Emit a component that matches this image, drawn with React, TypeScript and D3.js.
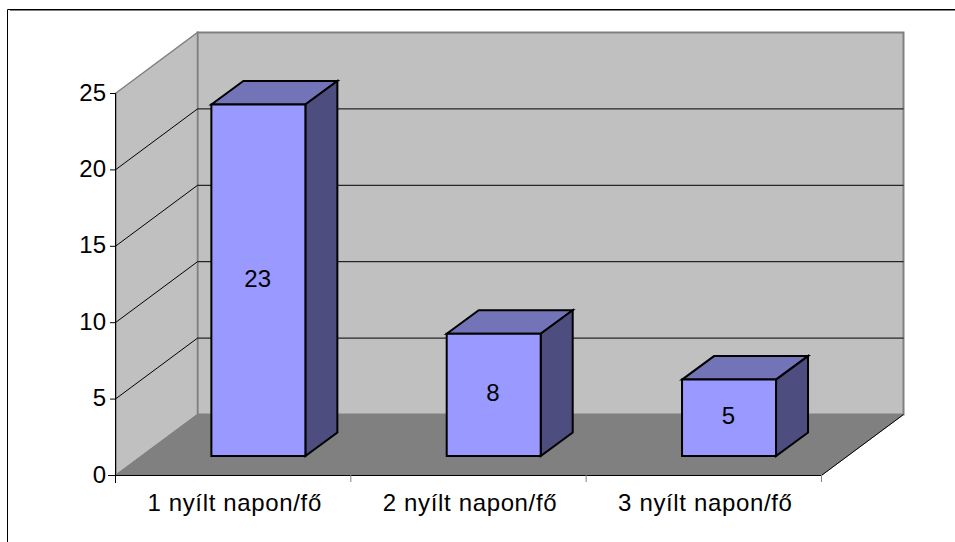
import React from "react";
import * as d3 from "d3";

const categories = ["1 nyílt napon/fő", "2 nyílt napon/fő", "3 nyílt napon/fő"];
const values = [23, 8, 5];
const yTicks = [0, 5, 10, 15, 20, 25];

const W = 955, H = 542;
const x0 = 116, x1 = 822, yBase = 475, yTop = 93;
const depthX = 81.5, depthY = -60.5;
const barLift = 19; // bars sit inside the floor depth
const barDepth = 32, barRise = 23.5;
const bandScale = d3.scaleBand<string>().domain(categories).range([x0, x1]);
const y = d3.scaleLinear().domain([0, 25]).range([yBase, yTop]);
const barW = 94;
const line = d3.line();
const poly = (p: [number, number][]) => line(p)! + "Z";

export default function App() {
  const fontFamily = '"Liberation Sans", Arial, sans-serif';
  return (
    <svg width={W} height={H} style={{ position: "absolute", left: 0, top: 0, background: "#fff" }} fontFamily={fontFamily}>
      {/* frame */}
      <path d={`M10 10.5H${W}`} fill="none" stroke="#808080" strokeWidth={1} />
      <path d={`M7.5 ${H}V9.5H${W}`} fill="none" stroke="#000" strokeWidth={1} />
      {/* back wall */}
      <path d={poly([[x0 + depthX, y(25) + depthY], [x1 + depthX, y(25) + depthY], [x1 + depthX, yBase + depthY], [x0 + depthX, yBase + depthY]])} fill="#c0c0c0" stroke="#808080" strokeWidth={2} />
      {/* side wall */}
      <path d={poly([[x0, y(25)], [x0 + depthX, y(25) + depthY], [x0 + depthX, yBase + depthY], [x0, yBase]])} fill="#c0c0c0" stroke="#808080" strokeWidth={1.5} />
      {/* floor */}
      <path d={poly([[x0, yBase], [x0 + depthX, yBase + depthY], [x1 + depthX, yBase + depthY], [x1, yBase]])} fill="#808080" stroke="#808080" />
      {/* gridlines */}
      {yTicks.filter(t => t > 0 && t < 25).map(t => (
        <path key={t} d={`M${x0} ${y(t)}L${x0 + depthX} ${y(t) + depthY}H${x1 + depthX}`} fill="none" stroke="#000" strokeWidth={1} />
      ))}
      {/* axes */}
      <path d={`M${x0 - 0.5} ${y(25)}V${yBase + 8}`} stroke="#000" fill="none" />
      <path d={`M${x0 - 8} ${yBase + 0.5}H${x1}`} stroke="#000" fill="none" />
      <path d={`M${x1 - 0.5} ${yBase}V${yBase + 7}`} stroke="#808080" fill="none" />
      <path d={`M${x1} ${yBase}L${x1 + depthX} ${yBase + depthY}`} stroke="#000" fill="none" />
      {categories.slice(1).map(c => (
        <path key={c} d={`M${bandScale(c)! - 0.5} ${yBase}v7`} stroke="#808080" fill="none" />
      ))}
      {yTicks.map(t => (
        <g key={t}>
          <path d={`M${x0 - 6} ${y(t) + 0.5}H${x0}`} stroke="#000" fill="none" />
          <text x={x0 - 10} y={y(t) + 7.5} textAnchor="end" fontSize={24} fill="#000">{t}</text>
        </g>
      ))}
      {/* bars */}
      {categories.map((c, i) => {
        const cx = bandScale(c)! + bandScale.bandwidth() / 2 + 24.7;
        const l = cx - barW / 2, r = cx + barW / 2;
        const b = yBase - barLift, t = b - (yBase - y(values[i]));
        return (
          <g key={c} stroke="#000" strokeWidth={2} strokeLinejoin="miter">
            <path d={poly([[l, t], [l + barDepth, t - barRise], [r + barDepth, t - barRise], [r, t]])} fill="#7373b8" />
            <path d={poly([[r, t], [r + barDepth, t - barRise], [r + barDepth, b - barRise], [r, b]])} fill="#4d4d80" />
            <path d={poly([[l, t], [r, t], [r, b], [l, b]])} fill="#9999ff" />
            <text x={cx - 0.7} y={(t + b) / 2 + 6.5} textAnchor="middle" fontSize={24} fill="#000" stroke="none">{values[i]}</text>
          </g>
        );
      })}
      {categories.map(c => (
        <text key={c} x={bandScale(c)! + bandScale.bandwidth() / 2 + 1} y={511} textAnchor="middle" fontSize={24} letterSpacing={0.65} fill="#000">{c}</text>
      ))}
    </svg>
  );
}
